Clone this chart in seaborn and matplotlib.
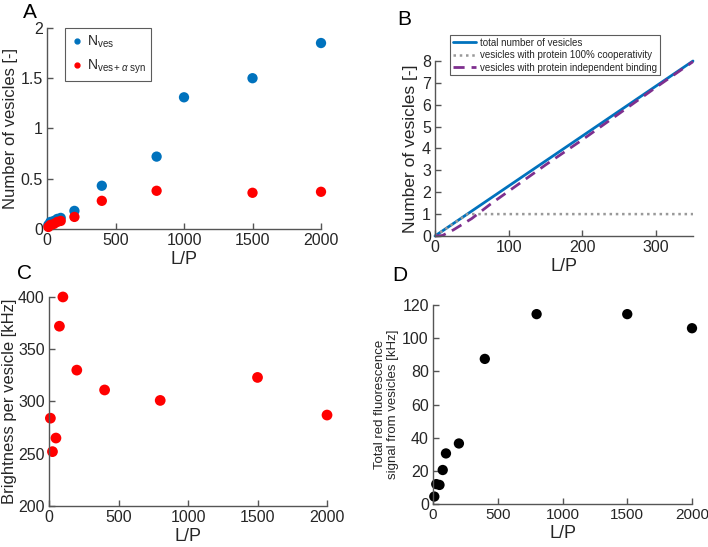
import numpy as np
import pandas as pd
import matplotlib
matplotlib.use("Agg")
import matplotlib.pyplot as plt
from matplotlib.ticker import FuncFormatter
from matplotlib.lines import Line2D
import seaborn as sns

sns.set_style("ticks")
plt.rcParams["font.family"] = ["Liberation Sans", "DejaVu Sans"]
plt.rcParams["mathtext.fontset"] = "custom"
plt.rcParams["mathtext.rm"] = "Liberation Sans"
plt.rcParams["mathtext.it"] = "Liberation Sans:italic"

# panel A data
lp_a_blue = [10, 25, 50, 75, 100, 200, 400, 800, 1000, 1500, 2000]
n_ves = [0.04, 0.07, 0.08, 0.10, 0.11, 0.18, 0.43, 0.72, 1.31, 1.50, 1.85]
lp_a_red = [10, 25, 50, 75, 100, 200, 400, 800, 1500, 2000]
n_ves_syn = [0.02, 0.04, 0.05, 0.07, 0.08, 0.12, 0.28, 0.38, 0.36, 0.37]

# panel B data
lp_b_total = [0, 350]
total_ves = [0, 8.0]
lp_b_coop = [0, 44, 350]
coop_ves = [0, 1.0, 1.0]
lp_b_indep = [0, 10, 25, 50, 75, 100, 150, 200, 250, 300, 350]
indep_ves = [0, 0.02, 0.28, 0.8, 1.45, 2.05, 3.25, 4.4, 5.6, 6.8, 7.97]

# panel C data
lp_c = [10, 25, 50, 75, 100, 200, 400, 800, 1500, 2000]
brightness = [284, 252, 265, 372, 400, 330, 311, 301, 323, 287]

# panel D data
lp_d = [10, 25, 50, 75, 100, 200, 400, 800, 1500, 2000]
red_signal = [4.5, 12, 11.5, 20.5, 30.5, 36.5, 87.5, 114.5, 114.5, 106]

BLUE = "#0072BD"
RED = "#FF0000"
PURPLE = "#7E2F8E"
GREY = "#999999"
AX_COL = "#555555"
TXT = "#262626"

fig = plt.figure(figsize=(7.08, 5.47), dpi=100)
ax_a = fig.add_axes([0.0664, 0.5814, 0.387, 0.3675])
ax_b = fig.add_axes([0.6144, 0.5686, 0.3644, 0.3199])
ax_c = fig.add_axes([0.0692, 0.0750, 0.3927, 0.3821])
ax_d = fig.add_axes([0.6116, 0.0786, 0.3658, 0.3638])

fmt = FuncFormatter(lambda v, p: f"{v:g}")
for ax in (ax_a, ax_b, ax_c, ax_d):
    sns.despine(ax=ax)
    for s in ("left", "bottom"):
        ax.spines[s].set_color(AX_COL)
        ax.spines[s].set_linewidth(1.0)
    ax.tick_params(direction="in", length=4, width=1.0, color=AX_COL,
                   labelsize=11.5, labelcolor=TXT, pad=3)
    ax.yaxis.set_major_formatter(fmt)
    ax.set_xlabel("L/P", fontsize=13, color=TXT, labelpad=2)

# A
sns.scatterplot(x=lp_a_blue, y=n_ves, ax=ax_a, color=BLUE, s=55,
                edgecolor="none", clip_on=False, zorder=3)
sns.scatterplot(x=lp_a_red, y=n_ves_syn, ax=ax_a, color=RED, s=55,
                edgecolor="none", clip_on=False, zorder=4)
ax_a.set_xlim(0, 2000)
ax_a.set_ylim(0, 2)
ax_a.set_xticks([0, 500, 1000, 1500, 2000])
ax_a.set_yticks([0, 0.5, 1, 1.5, 2])
ax_a.set_ylabel("Number of vesicles [-]", fontsize=12, color=TXT, labelpad=2)
h_a = [Line2D([], [], ls="none", marker="o", ms=3.5, color=BLUE),
       Line2D([], [], ls="none", marker="o", ms=3.5, color=RED)]
leg = ax_a.legend(h_a, [r"N$_{\mathrm{ves}}$", r"N$_{\mathrm{ves+}\alpha\ \mathrm{syn}}$"],
                  loc="upper left", bbox_to_anchor=(0.065, 1.0), fontsize=10,
                  frameon=True, fancybox=False, edgecolor="#333333",
                  handletextpad=0.2, handlelength=1.0, borderpad=0.4,
                  labelspacing=0.55, borderaxespad=0)
leg.get_frame().set_linewidth(0.8)

# B
sns.lineplot(x=lp_b_total, y=total_ves, ax=ax_b, color=BLUE, lw=2,
             label="total number of vesicles")
sns.lineplot(x=lp_b_coop, y=coop_ves, ax=ax_b, color=GREY, lw=1.8, ls=(0, (1, 1.5)),
             label="vesicles with protein 100% cooperativity")
sns.lineplot(x=lp_b_indep, y=indep_ves, ax=ax_b, color=PURPLE, lw=2, ls=(0, (4, 2.5)),
             label="vesicles with protein independent binding")
ax_b.set_xlim(0, 350)
ax_b.set_ylim(0, 8)
ax_b.set_xticks([0, 100, 200, 300])
ax_b.set_yticks(range(0, 9))
ax_b.set_ylabel("Number of vesicles [-]", fontsize=12.5, color=TXT, labelpad=3)
for ln in ax_b.lines:
    ln.set_clip_on(False)
leg_b = ax_b.legend(loc="upper left", bbox_to_anchor=(0.058, 1.15), fontsize=7.0,
                    frameon=True, fancybox=False, edgecolor="#333333",
                    handlelength=2.4, handletextpad=0.4, borderpad=0.3,
                    labelspacing=0.25, borderaxespad=0)
leg_b.get_frame().set_linewidth(0.8)

# C
sns.scatterplot(x=lp_c, y=brightness, ax=ax_c, color=RED, s=60,
                edgecolor="none", clip_on=False)
ax_c.set_xlim(0, 2000)
ax_c.set_ylim(200, 400)
ax_c.set_xticks([0, 500, 1000, 1500, 2000])
ax_c.set_yticks([200, 250, 300, 350, 400])
ax_c.set_ylabel("Brightness per vesicle [kHz]", fontsize=12, color=TXT, labelpad=1)

# D
sns.scatterplot(x=lp_d, y=red_signal, ax=ax_d, color="black", s=55,
                edgecolor="none", clip_on=False)
ax_d.set_xlim(0, 2000)
ax_d.set_ylim(0, 120)
ax_d.set_xticks([0, 500, 1000, 1500, 2000])
ax_d.set_yticks(range(0, 121, 20))
ax_d.tick_params(axis="x", labelsize=11)
ax_d.set_ylabel("Total red fluorescence\nsignal from vesicles [kHz]", fontsize=9.5,
                color=TXT, labelpad=2)

# panel letters
for lbl, x, y in (("A", 23, 3), ("B", 397, 10), ("C", 17, 264), ("D", 392, 266)):
    fig.text(x / 708, 1 - y / 547, lbl, fontsize=15, color="black", va="top", ha="left")

fig.savefig("out.png", dpi=100)
